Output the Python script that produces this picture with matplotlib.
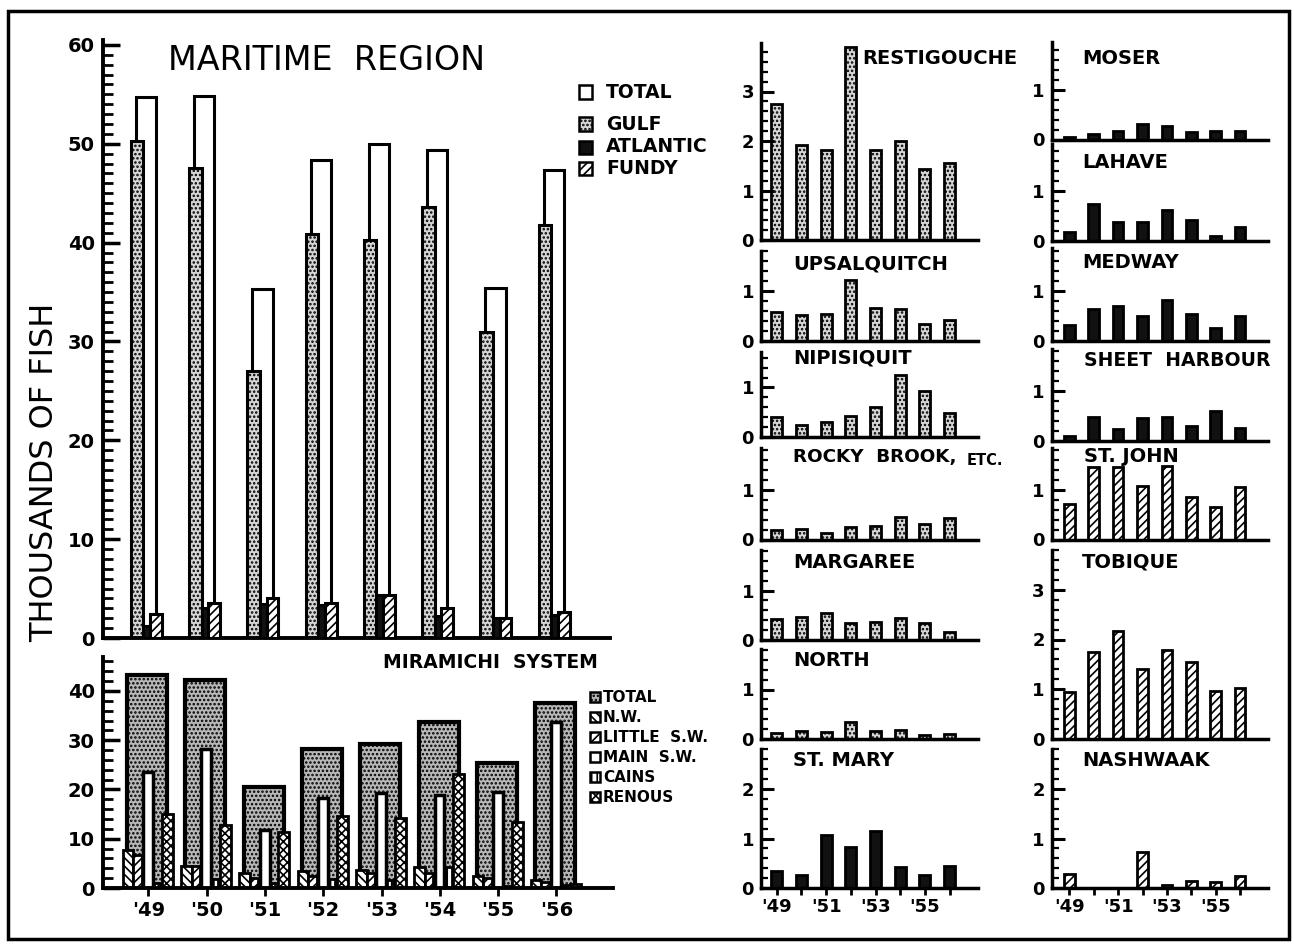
import matplotlib
matplotlib.use('Agg')
import matplotlib.pyplot as plt
import numpy as np
from matplotlib.patches import Rectangle
from matplotlib.ticker import MultipleLocator

plt.rcParams['font.family'] = ['DejaVu Sans']
plt.rcParams['hatch.linewidth'] = 1.2

years = ["'49", "'50", "'51", "'52", "'53", "'54", "'55", "'56"]

# Maritime region (thousands of fish)
mar_total = [54.7, 54.8, 35.3, 48.4, 50.0, 49.4, 35.4, 47.3]
mar_gulf = [50.3, 47.6, 27.0, 40.9, 40.3, 43.6, 31.0, 41.8]
mar_atlantic = [1.2, 3.0, 3.4, 3.3, 4.4, 2.2, 2.0, 2.3]
mar_fundy = [2.4, 3.5, 4.0, 3.5, 4.3, 3.0, 2.0, 2.6]

# Miramichi system
mir_total = [43.3, 42.3, 20.5, 28.2, 29.2, 33.7, 25.4, 37.6]
mir_nw = [7.7, 4.5, 3.1, 3.5, 3.6, 4.2, 2.5, 1.6]
mir_lsw = [6.7, 4.5, 2.0, 2.4, 3.0, 3.1, 2.0, 1.3]
mir_msw = [23.6, 28.2, 11.8, 18.3, 19.2, 18.9, 19.5, 33.7]
mir_cains = [1.0, 1.8, 1.0, 1.8, 1.6, 4.3, 0.4, 0.6]
mir_renous = [15.0, 12.8, 11.4, 14.7, 14.3, 23.1, 13.4, 0.8]

# Individual rivers
restigouche = [2.75, 1.92, 1.82, 3.90, 1.82, 2.00, 1.43, 1.56]
upsalquitch = [0.58, 0.52, 0.54, 1.22, 0.66, 0.63, 0.34, 0.42]
nipisiquit = [0.40, 0.24, 0.30, 0.42, 0.60, 1.25, 0.92, 0.48]
rocky_brook = [0.19, 0.22, 0.13, 0.26, 0.28, 0.45, 0.31, 0.44]
margaree = [0.42, 0.46, 0.55, 0.34, 0.37, 0.44, 0.34, 0.17]
north = [0.13, 0.17, 0.15, 0.35, 0.17, 0.19, 0.09, 0.10]
st_mary = [0.34, 0.27, 1.08, 0.83, 1.16, 0.42, 0.27, 0.44]
moser = [0.05, 0.11, 0.17, 0.31, 0.27, 0.15, 0.18, 0.17]
lahave = [0.17, 0.73, 0.37, 0.37, 0.61, 0.41, 0.09, 0.28]
medway = [0.32, 0.63, 0.69, 0.49, 0.81, 0.53, 0.25, 0.49]
sheet_harbour = [0.09, 0.48, 0.24, 0.46, 0.48, 0.29, 0.59, 0.25]
st_john = [0.72, 1.47, 1.47, 1.08, 1.49, 0.86, 0.66, 1.07]
tobique = [0.93, 1.74, 2.18, 1.41, 1.78, 1.54, 0.96, 1.03]
nashwaak = [0.29, 0.0, 0.0, 0.73, 0.07, 0.14, 0.12, 0.24]

W, H = 1294, 949
fig = plt.figure(figsize=(W / 100, H / 100), dpi=100)
x = np.arange(len(years))

GULF = dict(facecolor='#d6d6d6', edgecolor='black', hatch='....', linewidth=2.2)
ATL = dict(facecolor='#111111', edgecolor='black', linewidth=2.2)
FUNDY = dict(facecolor='white', edgecolor='black', hatch='////', linewidth=2.2)
TOTAL = dict(facecolor='white', edgecolor='black', linewidth=2.2)


def add_ax(left, right, zero_y, top_y):
    return fig.add_axes([left / W, 1 - zero_y / H, (right - left) / W, (zero_y - top_y) / H])


def style(ax, lw=2.5):
    for s in ['top', 'right']:
        ax.spines[s].set_visible(False)
    for s in ['left', 'bottom']:
        ax.spines[s].set_linewidth(lw)
    ax.patch.set_alpha(0)


def ftext(px, py, s, **kw):
    fig.text(px / W, 1 - py / H, s, **kw)


def fpatch(px, py, w, h, **kw):
    fig.add_artist(Rectangle((px / W, 1 - (py + h / 2) / H), w / W, h / H,
                             transform=fig.transFigure, **kw))


# ---------------- Main chart: Maritime region ----------------
ax = add_ax(103, 610, 638, 40)
style(ax, 2.8)
ax.bar(x - 0.042, mar_total, 0.348, zorder=1, **TOTAL)
ax.bar(x - 0.194, mar_gulf, 0.216, zorder=2, **GULF)
ax.bar(x - 0.029, mar_atlantic, 0.115, zorder=3, **ATL)
ax.bar(x + 0.129, mar_fundy, 0.20, zorder=3, **FUNDY)
ax.set_xlim(-0.777, 7.92)
ax.set_ylim(0, 60.5)
ax.set_xticks([])
ax.set_yticks(np.arange(0, 61, 10))
ax.yaxis.set_minor_locator(MultipleLocator(1))
ax.tick_params(axis='y', which='major', direction='in', length=12, width=2.5,
               labelsize=14, pad=6)
ax.tick_params(axis='y', which='minor', direction='in', length=7, width=2)
for t in ax.get_yticklabels():
    t.set_fontweight('bold')

ftext(168, 60, 'MARITIME  REGION', fontsize=24, va='center', ha='left')
ftext(45, 472, 'THOUSANDS OF FISH', fontsize=23, rotation=90, va='center', ha='center')

leg_main = [('TOTAL', TOTAL), ('GULF', GULF), ('ATLANTIC', ATL), ('FUNDY', FUNDY)]
for (lab, st), yy in zip(leg_main, [92, 124, 147, 168]):
    kw = dict(st)
    kw['linewidth'] = 1.8
    fpatch(579, yy, 13, 13, **kw)
    ftext(606, yy, lab, fontsize=13.5, fontweight='bold', va='center', ha='left')

# ---------------- Miramichi system ----------------
am = add_ax(103, 613, 888, 657)
style(am, 2.8)
am.bar(x - 0.022, mir_total, 0.686, facecolor='#b8b8b8', edgecolor='black',
       hatch='....', linewidth=3, zorder=1)
am.bar(x - 0.348, mir_nw, 0.183, facecolor='white', edgecolor='black',
       hatch='\\\\\\\\', linewidth=2, zorder=2)
am.bar(x - 0.185, mir_lsw, 0.144, facecolor='white', edgecolor='black',
       hatch='////', linewidth=2, zorder=2)
am.bar(x - 0.005, mir_msw, 0.17, facecolor='white', edgecolor='black',
       linewidth=2.5, zorder=2)
am.bar(x + 0.149, mir_cains, 0.103, facecolor='white', edgecolor='black',
       hatch='|||', linewidth=2, zorder=2)
am.bar(x + 0.324, mir_renous, 0.189, facecolor='white', edgecolor='black',
       hatch='xxxx', linewidth=2, zorder=2)
am.set_xlim(-0.777, 7.97)
am.set_ylim(0, 46.9)
am.set_xticks(x)
am.set_xticklabels(years)
am.set_yticks(np.arange(0, 41, 10))
am.yaxis.set_minor_locator(MultipleLocator(2))
am.tick_params(axis='y', which='major', direction='in', length=12, width=2.5,
               labelsize=14, pad=6)
am.tick_params(axis='y', which='minor', direction='in', length=7, width=2)
am.tick_params(axis='x', direction='out', length=6, width=2, labelsize=14, pad=3)
for t in am.get_yticklabels() + am.get_xticklabels():
    t.set_fontweight('bold')

ftext(383, 663, 'MIRAMICHI  SYSTEM', fontsize=13.5, fontweight='bold', va='center', ha='left')
leg_mir = [
    ('TOTAL', dict(facecolor='#b8b8b8', edgecolor='black', hatch='....')),
    ('N.W.', dict(facecolor='white', edgecolor='black', hatch='\\\\\\\\')),
    ('LITTLE  S.W.', dict(facecolor='white', edgecolor='black', hatch='////')),
    ('MAIN  S.W.', dict(facecolor='white', edgecolor='black')),
    ('CAINS', dict(facecolor='white', edgecolor='black', hatch='|||')),
    ('RENOUS', dict(facecolor='white', edgecolor='black', hatch='xxxx')),
]
for (lab, st), yy in zip(leg_mir, [697, 717, 737, 757, 777, 797]):
    fpatch(590, yy, 10, 10, linewidth=1.8, **st)
    ftext(603, yy, lab, fontsize=11, fontweight='bold', va='center', ha='left')

# ---------------- Small river panels ----------------
PX_UNIT = 49.5
mid_cols = (761, 978, 776.7, 24.7)
right_cols = (1051.7, 1268, 1069.3, 24.4)

panels = [
    # (title, values, style, column, zero_px, ymax, title_x, title_y, bottom)
    ('RESTIGOUCHE', restigouche, GULF, mid_cols, 240, 3.97, 862, 58, False),
    ('UPSALQUITCH', upsalquitch, GULF, mid_cols, 340.5, 1.8, 793, 264, False),
    ('NIPISIQUIT', nipisiquit, GULF, mid_cols, 437, 1.72, 793, 358, False),
    ('ROCKY  BROOK,', rocky_brook, GULF, mid_cols, 539.5, 1.84, 793, 457, False),
    ('MARGAREE', margaree, GULF, mid_cols, 640, 1.82, 793, 562, False),
    ('NORTH', north, GULF, mid_cols, 739, 1.82, 793, 661, False),
    ('ST. MARY', st_mary, ATL, mid_cols, 888, 2.8, 793, 760, True),
    ('MOSER', moser, ATL, right_cols, 139.5, 1.96, 1082, 58, False),
    ('LAHAVE', lahave, ATL, right_cols, 240.5, 1.95, 1082, 163, False),
    ('MEDWAY', medway, ATL, right_cols, 340.5, 1.86, 1082, 263, False),
    ('SHEET  HARBOUR', sheet_harbour, ATL, right_cols, 440.5, 1.84, 1084, 360, False),
    ('ST. JOHN', st_john, FUNDY, right_cols, 539.5, 1.84, 1084, 456, False),
    ('TOBIQUE', tobique, FUNDY, right_cols, 738.5, 3.8, 1082, 562, False),
    ('NASHWAAK', nashwaak, FUNDY, right_cols, 888, 2.8, 1082, 760, True),
]

for title, vals, st, (l, r, x0, dx), zero, ymax, tx, ty, bottom in panels:
    a = add_ax(l, r, zero, zero - ymax * PX_UNIT)
    style(a, 2.5)
    kw = dict(st)
    kw['linewidth'] = 2
    a.bar(x, vals, 0.44, **kw)
    a.set_xlim((l - x0) / dx, (r - x0) / dx)
    a.set_ylim(0, ymax)
    a.set_yticks(np.arange(0, int(ymax) + 1))
    a.yaxis.set_minor_locator(MultipleLocator(0.2))
    a.tick_params(axis='y', which='major', direction='in', length=9, width=2.2,
                  labelsize=13, pad=5)
    a.tick_params(axis='y', which='minor', direction='in', length=5, width=1.6)
    if bottom:
        a.set_xticks(x)
        a.set_xticklabels([years[i] if i % 2 == 0 else '' for i in range(len(years))])
        a.tick_params(axis='x', direction='out', length=5, width=2, labelsize=13, pad=2)
    else:
        a.set_xticks([])
    for t in a.get_yticklabels() + a.get_xticklabels():
        t.set_fontweight('bold')
    if title.startswith('SHEET'):
        fs = 13.6
    elif title.startswith('ROCKY'):
        fs = 13.2
    else:
        fs = 14
    ftext(tx, ty, title, fontsize=fs, fontweight='bold', va='center', ha='left')

ftext(967, 460, 'ETC.', fontsize=10.5, fontweight='bold', va='center', ha='left')

# Frame around the figure
fig.add_artist(Rectangle((8 / W, 1 - 939 / H), (1289 - 8) / W, (939 - 11) / H,
                         transform=fig.transFigure, fill=False, linewidth=2.5,
                         edgecolor='black'))

fig.savefig('out.png', dpi=100, facecolor='white')
